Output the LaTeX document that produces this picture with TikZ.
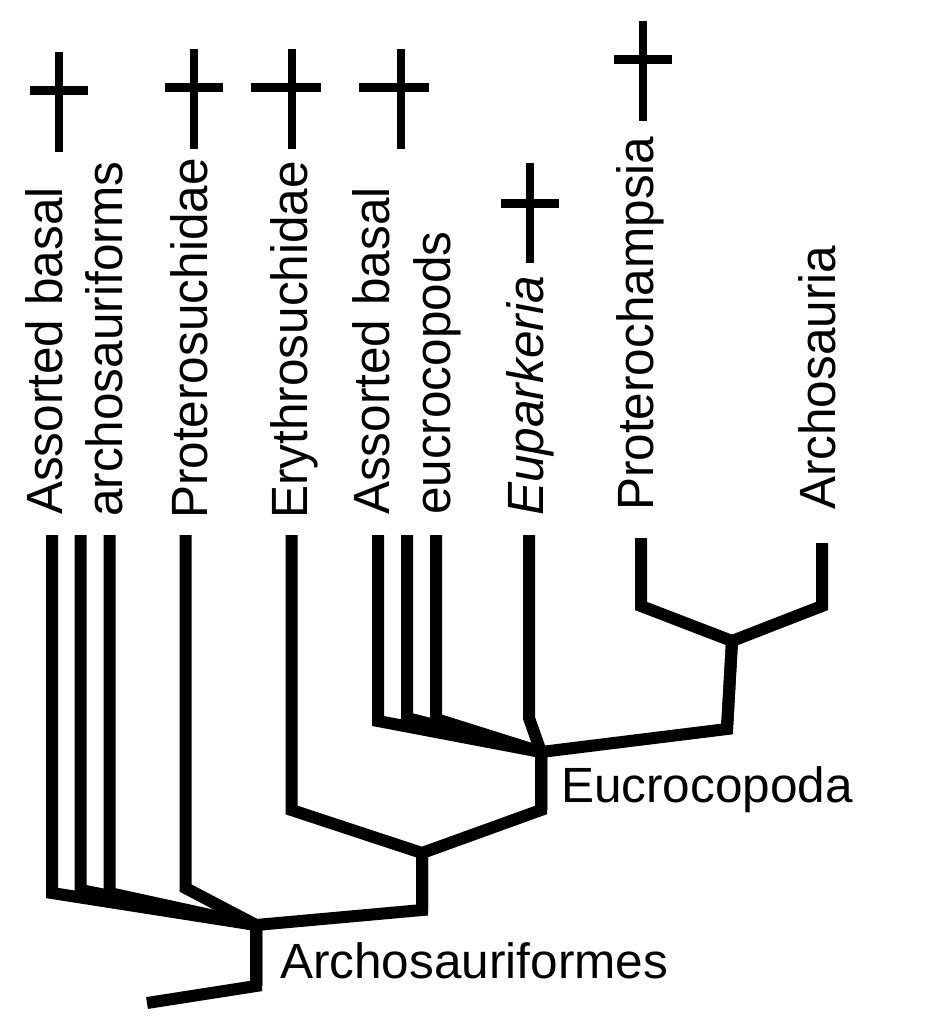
\documentclass[tikz,border=0pt]{standalone}
\usepackage{fontspec}
\setmainfont{Liberation Sans}
\usepackage{graphicx}
\newcommand{\vlbl}[1]{\scalebox{1}[1.03]{#1}}
\begin{document}
\begin{tikzpicture}[x=1pt,y=-1pt,
  branch/.style={line width=12pt, line join=miter, line cap=butt},
  crossv/.style={line width=8pt, line cap=butt},
  crossh/.style={line width=9pt, line cap=butt},
  taxon/.style={rotate=90, anchor=base west, inner sep=0pt, font=\fontsize{49.5}{55}\selectfont},
  clade/.style={anchor=base west, inner sep=0pt, font=\fontsize{49.5}{55}\selectfont}]
\fill[white] (0,0) rectangle (949,1017);
\useasboundingbox (0,0) rectangle (949,1017);

% labels
\node[taxon] (t1a) at (62,515) {\vlbl{Assorted basal}};
\node[taxon] (t1b) at (122,517) {\vlbl{archosauriforms}};
\node[taxon] (t2) at (207,519) {\vlbl{Proterosuchidae}};
\node[taxon] (t3) at (307,519) {\vlbl{Erythrosuchidae}};
\node[taxon] (t4a) at (389,515) {\vlbl{Assorted basal}};
\node[taxon] (t4b) at (450,515) {\vlbl{eucrocopods}};
\node[taxon] (t5) at (543,516) {\vlbl{\itshape Euparkeria}};
\node[taxon] (t6) at (653,511) {\vlbl{Proterochampsia}};
\node[taxon] (t7) at (835,510) {\vlbl{Archosauria}};
\node[clade] (euc) at (561,802) {Eucrocopoda};
\node[clade] (arc) at (280,978) {Archosauriformes};

% coordinates
\coordinate (root) at (147,1003);
\coordinate (sb) at (256,986);
\coordinate (J1) at (256,925);
\coordinate (J2b) at (422,910);
\coordinate (J2) at (422,853);
\coordinate (J3b) at (541,810);
\coordinate (J3) at (541,752);
\coordinate (J4b) at (727,729);
\coordinate (J4) at (732,641);

\coordinate (a1) at (52,535);   \coordinate (b1) at (52,893);
\coordinate (a2) at (80.5,535); \coordinate (b2) at (80.5,890);
\coordinate (a3) at (109.5,535);\coordinate (b3) at (109.5,893);
\coordinate (a4) at (185.5,535);\coordinate (b4) at (185.5,888);
\coordinate (a5) at (291.5,535);\coordinate (b5) at (291.5,810);
\coordinate (a6) at (378,535);  \coordinate (b6) at (378,721);
\coordinate (a7) at (407,535);  \coordinate (b7) at (407,718);
\coordinate (a8) at (436,535);  \coordinate (b8) at (436,719);
\coordinate (a9) at (529,535);  \coordinate (b9) at (529,718);
\coordinate (a10) at (641,538); \coordinate (b10) at (641,606);
\coordinate (a11) at (822,543); \coordinate (b11) at (822,606);

% tree
\draw[branch] (a1) -- (b1) -- (J1) -- (sb) -- (root);
\draw[branch] (a2) -- (b2) -- (J1) -- (sb);
\draw[branch] (a3) -- (b3) -- (J1) -- (sb);
\draw[branch] (a4) -- (b4) -- (J1) -- (sb);
\draw[branch] (a5) -- (b5) -- (J2) -- (J2b) -- (J1) -- (sb);
\draw[branch] (a6) -- (b6) -- (J3) -- (J3b) -- (J2) -- (J2b);
\draw[branch] (a7) -- (b7) -- (J3) -- (J3b);
\draw[branch] (a8) -- (b8) -- (J3) -- (J3b);
\draw[branch] (a9) -- (b9) -- (J3) -- (J3b);
\draw[branch] (a10) -- (b10) -- (J4) -- (J4b) -- (J3) -- (J3b);
\draw[branch] (a11) -- (b11) -- (J4) -- (J4b);

% extinction daggers
\foreach \n/\x/\yt/\yb/\yh/\xl/\xr in {c1/59/52/152/90/30/88, c2/194/49/149/87/165/223, c3/292/49/149/87/251/321, c4/401/49/149/87/359/429, c5/530/163/263/203/501/559, c6/643/21/121/59/614/672}{
  \coordinate (\n top) at (\x,\yt);
  \coordinate (\n bot) at (\x,\yb);
  \coordinate (\n l) at (\xl,\yh);
  \coordinate (\n r) at (\xr,\yh);
  \draw[crossv] (\n top) -- (\n bot);
  \draw[crossh] (\n l) -- (\n r);
}
\end{tikzpicture}
\end{document}
